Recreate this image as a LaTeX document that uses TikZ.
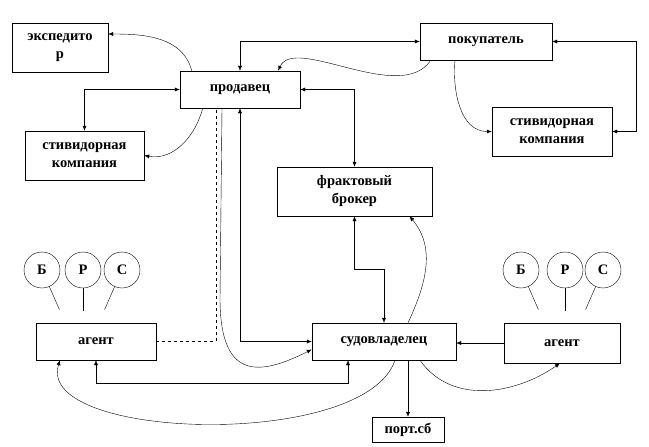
\documentclass[tikz,border=0pt]{standalone}
\usepackage{fontspec}
\setmainfont{Liberation Serif}
\usepackage{xcolor}
\usepackage{tikz}
\usetikzlibrary{arrows.meta, calc}
\definecolor{lineMain}{RGB}{0,0,0}
\tikzset{
  roleNode/.style={
    draw=lineMain,
    thin,
    fill=white,
    align=center,
    inner sep=1pt,
    font=\fontsize{14.5}{18}\selectfont\bfseries
  },
  tagNode/.style={circle, draw=lineMain, thin, fill=white, minimum size=36pt, inner sep=0pt,
    font=\fontsize{14.5}{18}\selectfont\bfseries},
  tagLine/.style={thin, draw=lineMain},
  oneFlow/.style={-{Latex[length=5pt,width=4pt]}, thin, draw=lineMain},
  bothFlow/.style={{Latex[length=5pt,width=4pt]}-{Latex[length=5pt,width=4pt]}, thin, draw=lineMain},
  plainFlow/.style={thin, dashed, draw=lineMain}
}
\begin{document}
\begin{tikzpicture}[x=1pt, y=-1pt]
  \useasboundingbox (0,0) rectangle (649,447);

  \node[roleNode, minimum width=96pt, minimum height=49pt] (expeditor) at (60,47.5) {экспедито\\р};
  \node[roleNode, minimum width=120pt, minimum height=37pt] (seller) at (240,89.5) {продавец};
  \node[roleNode, minimum width=119pt, minimum height=49pt] (stevLeft) at (84.5,155.5) {стивидорная\\компания};
  \node[roleNode, minimum width=132pt, minimum height=37pt] (buyer) at (486,41.5) {покупатель};
  \node[roleNode, minimum width=120pt, minimum height=49pt] (stevRight) at (552,131.5) {стивидорная\\компания};
  \node[roleNode, minimum width=155pt, minimum height=49pt] (broker) at (354.5,191.5) {фрактовый\\брокер};
  \node[roleNode, minimum width=120pt, minimum height=37pt] (agentLeft) at (96,341.5) {агент};
  \node[roleNode, minimum width=144pt, minimum height=37pt] (owner) at (384,341.5) {судовладелец};
  \node[roleNode, minimum width=116pt, minimum height=40pt] (agentRight) at (562,343) {агент};
  \node[roleNode, minimum width=72pt, minimum height=25pt] (port) at (408,429.5) {порт.сб};

  \node[tagNode] (bLeft) at (42,270) {Б};
  \node[tagNode] (rLeft) at (83,270) {Р};
  \node[tagNode] (sLeft) at (122,270) {С};
  \node[tagNode] (bRight) at (521,270) {Б};
  \node[tagNode] (rRight) at (565,270) {Р};
  \node[tagNode] (sRight) at (603,270) {С};

  \draw[tagLine] (bLeft.-66) -- ++(10,23);
  \draw[tagLine] (rLeft.south) -- ++(0,23);
  \draw[tagLine] (sLeft.-114) -- ++(-10,23);
  \draw[tagLine] (bRight.-66) -- ++(10,23);
  \draw[tagLine] (rRight.south) -- ++(0,23);
  \draw[tagLine] (sRight.-114) -- ++(-10,23);

  \draw[oneFlow] ([xshift=12pt]seller.north west) to[out=105, in=0] ([yshift=13.5pt]expeditor.east);
  \draw[bothFlow] (seller.west) -| (stevLeft.north);
  \draw[oneFlow] ([xshift=23pt]seller.south west) to[out=-105, in=-10] (stevLeft.east);
  \draw[bothFlow] (buyer.west) -| (seller.north);
  \draw[oneFlow] ([xshift=11pt]buyer.south west) .. controls +(-30,45) and +(17,-36) .. ([xshift=38pt]seller.north);
  \draw[bothFlow] (seller.east) -| (broker.north);
  \draw[bothFlow] (buyer.east) -- ++(84,0) |- (stevRight.east);
  \draw[oneFlow] ([xshift=-31pt]buyer.south) to[out=-95, in=180] (stevRight.west);
  \draw[plainFlow] (agentLeft.east) -| ([xshift=-24pt]seller.south);
  \draw[oneFlow] ([xshift=-18pt]seller.south) -- ++(-2,190) .. controls +(0,85) and +(-50,25) .. ([yshift=-8pt]owner.west);
  \draw[bothFlow] (seller.south) |- (owner.west);
  \draw[bothFlow] (broker.south) -- ++(0,53) -| (owner.north);
  \draw[oneFlow] ([xshift=24pt]owner.north) to[out=65, in=-50] ([xshift=55pt]broker.south);
  \draw[oneFlow] (agentRight.west) -- (agentRight.west -| owner.east);
  \draw[oneFlow] (port.north |- owner.south) -- (port.north);
  \draw[oneFlow] ([xshift=11pt]owner.south) .. controls +(-30,90) and +(-25,80) .. ([xshift=-36pt]agentLeft.south);
  \draw[bothFlow] (agentLeft.south) -- ++(0,23) -| ([xshift=-36pt]owner.south);
  \draw[oneFlow] ([xshift=36pt]owner.south) to[out=-55, in=-145] ([xshift=-2pt]agentRight.south);
\end{tikzpicture}
\end{document}
